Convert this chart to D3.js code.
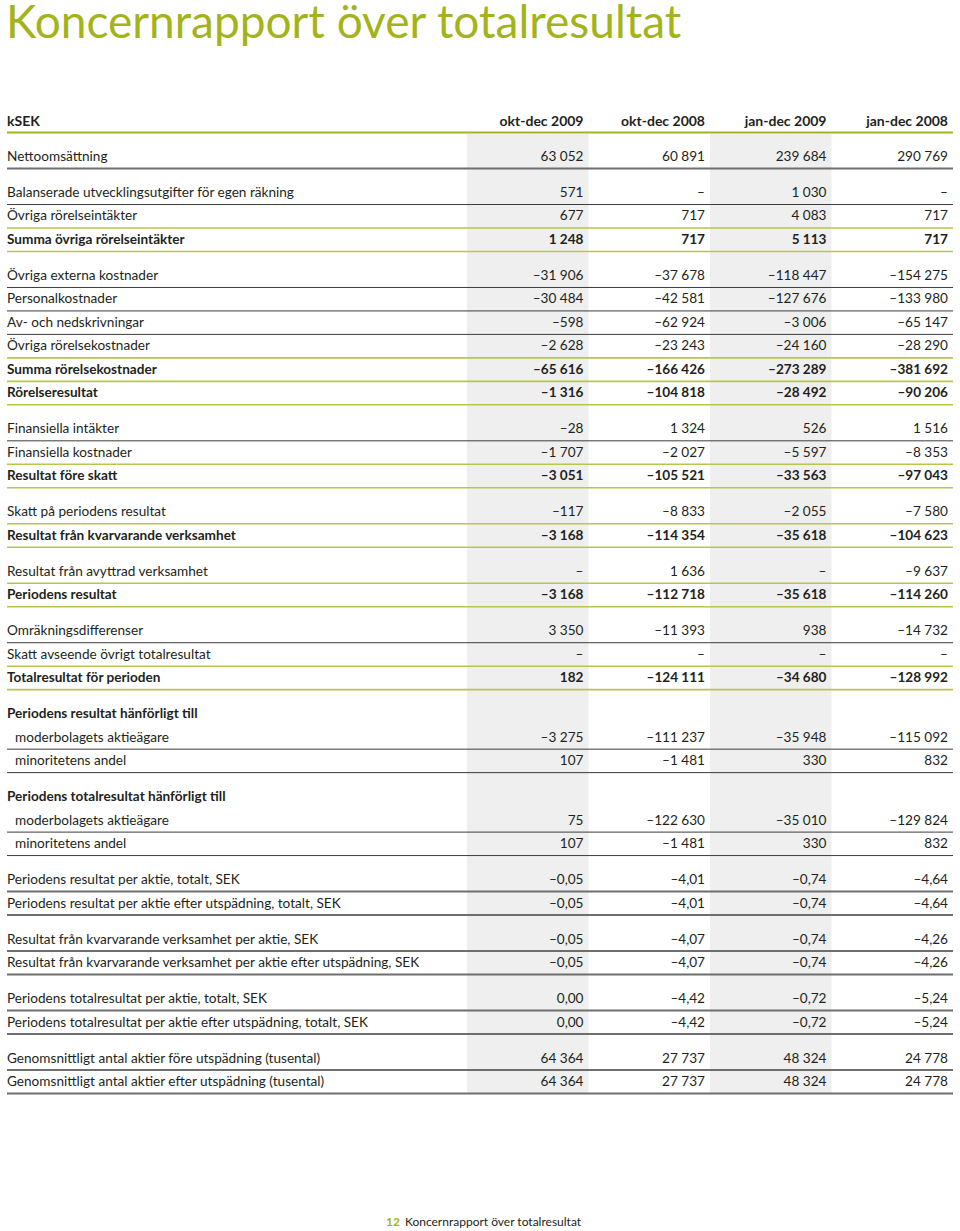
<!DOCTYPE html>
<html>
<head>
<meta charset="utf-8">
<script src="https://cdn.jsdelivr.net/npm/d3@7"></script>
<style>
  body { margin: 0; background: #fff; }
  svg text { font-family: Lato, "Open Sans", sans-serif; fill: #231f20; }
</style>
</head>
<body>
<svg id="report" width="960" height="1231"></svg>
<script>
// column headers
const colHeaders = ["okt-dec 2009", "okt-dec 2008", "jan-dec 2009", "jan-dec 2008"];

// row labels
const rowLabels = [
  "Nettoomsättning",
  "Balanserade utvecklingsutgifter för egen räkning",
  "Övriga rörelseintäkter",
  "Summa övriga rörelseintäkter",
  "Övriga externa kostnader",
  "Personalkostnader",
  "Av- och nedskrivningar",
  "Övriga rörelsekostnader",
  "Summa rörelsekostnader",
  "Rörelseresultat",
  "Finansiella intäkter",
  "Finansiella kostnader",
  "Resultat före skatt",
  "Skatt på periodens resultat",
  "Resultat från kvarvarande verksamhet",
  "Resultat från avyttrad verksamhet",
  "Periodens resultat",
  "Omräkningsdifferenser",
  "Skatt avseende övrigt totalresultat",
  "Totalresultat för perioden",
  "Periodens resultat hänförligt till",
  "moderbolagets aktieägare",
  "minoritetens andel",
  "Periodens totalresultat hänförligt till",
  "moderbolagets aktieägare",
  "minoritetens andel",
  "Periodens resultat per aktie, totalt, SEK",
  "Periodens resultat per aktie efter utspädning, totalt, SEK",
  "Resultat från kvarvarande verksamhet per aktie, SEK",
  "Resultat från kvarvarande verksamhet per aktie efter utspädning, SEK",
  "Periodens totalresultat per aktie, totalt, SEK",
  "Periodens totalresultat per aktie efter utspädning, totalt, SEK",
  "Genomsnittligt antal aktier före utspädning (tusental)",
  "Genomsnittligt antal aktier efter utspädning (tusental)"
];

// series values, one array per column (null = "–", undefined = blank)
const oktDec2009 = [63052, 571, 677, 1248, -31906, -30484, -598, -2628, -65616, -1316,
  -28, -1707, -3051, -117, -3168, null, -3168, 3350, null, 182,
  undefined, -3275, 107, undefined, 75, 107,
  -0.05, -0.05, -0.05, -0.05, 0.00, 0.00, 64364, 64364];
const oktDec2008 = [60891, null, 717, 717, -37678, -42581, -62924, -23243, -166426, -104818,
  1324, -2027, -105521, -8833, -114354, 1636, -112718, -11393, null, -124111,
  undefined, -111237, -1481, undefined, -122630, -1481,
  -4.01, -4.01, -4.07, -4.07, -4.42, -4.42, 27737, 27737];
const janDec2009 = [239684, 1030, 4083, 5113, -118447, -127676, -3006, -24160, -273289, -28492,
  526, -5597, -33563, -2055, -35618, null, -35618, 938, null, -34680,
  undefined, -35948, 330, undefined, -35010, 330,
  -0.74, -0.74, -0.74, -0.74, -0.72, -0.72, 48324, 48324];
const janDec2008 = [290769, null, 717, 717, -154275, -133980, -65147, -28290, -381692, -90206,
  1516, -8353, -97043, -7580, -104623, -9637, -114260, -14732, null, -128992,
  undefined, -115092, 832, undefined, -129824, 832,
  -4.64, -4.64, -4.26, -4.26, -5.24, -5.24, 24778, 24778];

// row format: bold, indent, rule under row, new group flag, decimals
const rowBold = [0,0,0,1,0,0,0,0,1,1, 0,0,1,0,1,0,1,0,0,1, 1,0,0,1,0,0, 0,0,0,0,0,0,0,0];
const rowIndent = [0,0,0,0,0,0,0,0,0,0, 0,0,0,0,0,0,0,0,0,0, 0,1,1,0,1,1, 0,0,0,0,0,0,0,0];
const rowRule = ["gray","dark","green","green","dark","dark","dark","green","green","green",
  "dark","green","green","green","green","green","green","dark","green","green",
  "none","dark","dark","none","dark","dark",
  "gray","gray","gray","gray","gray","gray","gray","gray"];
const groupStart = [1,1,0,0,1,0,0,0,0,0, 1,0,0,1,0,1,0,1,0,0, 1,0,0,1,0,0, 1,0,1,0,1,0,1,0];
const decimals = [0,0,0,0,0,0,0,0,0,0, 0,0,0,0,0,0,0,0,0,0, 0,0,0,0,0,0, 2,2,2,2,2,2,0,0];

const series = [oktDec2009, oktDec2008, janDec2009, janDec2008];

const GREEN = "#a3b41a";
const LINE_GREEN = "#b8c64a";
const ruleStyle = {
  green: { color: LINE_GREEN, width: 1.6 },
  dark: { color: "#3c3c3c", width: 1 },
  gray: { color: "#6e6e6e", width: 2 }
};

const se = d3.formatLocale({
  decimal: ",",
  thousands: " ",
  grouping: [3],
  currency: ["", " kr"],
  minus: "\u2013"
});
const fmt0 = se.format(",.0f");
const fmt2 = se.format(",.2f");

function cellText(v, i) {
  if (v === undefined) return "";
  if (v === null) return "\u2013";
  return decimals[i] ? fmt2(v) : fmt0(v);
}

const svg = d3.select("svg#report");

const left = 7, right = 953;
const bodySize = "13.6px";

// x positions of value columns
const xScale = d3.scaleBand().domain(colHeaders).range([467, right]).padding(0);

// y: row slot index including group gaps
let gapCount = 0;
const slot = rowLabels.map((d, i) => {
  if (i > 0 && groupStart[i]) gapCount++;
  return i + gapCount * 0.535;
});
const yScale = d3.scaleLinear().domain([0, d3.max(slot)]).range([161, 1086]);

// title
svg.append("text")
  .text("Koncernrapport över totalresultat")
  .attr("x", 6)
  .attr("y", 38)
  .style("font-size", "46px")
  .style("font-weight", 400)
  .style("fill", GREEN);

// shaded columns
[colHeaders[0], colHeaders[2]].forEach(c => {
  svg.append("rect")
    .attr("x", xScale(c))
    .attr("y", 134)
    .attr("width", xScale.bandwidth())
    .attr("height", yScale(d3.max(slot)) + 8 - 134)
    .attr("fill", "#efefef");
});

// header row
svg.append("text")
  .text("kSEK")
  .attr("x", left)
  .attr("y", 126)
  .style("font-size", "14px")
  .style("font-weight", 700);

colHeaders.forEach(c => {
  svg.append("text")
    .text(c)
    .attr("x", xScale(c) + xScale.bandwidth() - 5)
    .attr("y", 126)
    .attr("text-anchor", "end")
    .style("font-size", "14px")
    .style("font-weight", 700);
});

svg.append("line")
  .attr("x1", left).attr("x2", right)
  .attr("y1", 132.5).attr("y2", 132.5)
  .attr("stroke", GREEN)
  .attr("stroke-width", 2.2);

// body rows
rowLabels.forEach((label, i) => {
  const y = yScale(slot[i]);
  const weight = rowBold[i] ? 700 : 400;

  svg.append("text")
    .text(label)
    .attr("x", left + (rowIndent[i] ? 8 : 0))
    .attr("y", y)
    .style("font-size", bodySize)
    .style("font-weight", weight);

  series.forEach((vals, c) => {
    svg.append("text")
      .text(cellText(vals[i], i))
      .attr("x", xScale(colHeaders[c]) + xScale.bandwidth() - 5)
      .attr("y", y)
      .attr("text-anchor", "end")
      .style("font-size", bodySize)
      .style("font-weight", weight);
  });

  const rule = ruleStyle[rowRule[i]];
  if (rule) {
    svg.append("line")
      .attr("x1", left).attr("x2", right)
      .attr("y1", y + 7.5).attr("y2", y + 7.5)
      .attr("stroke", rule.color)
      .attr("stroke-width", rule.width);
  }
});

// footer
const footer = svg.append("text")
  .attr("x", 386)
  .attr("y", 1226)
  .style("font-size", "12px");
footer.append("tspan").text("12").style("fill", GREEN).style("font-weight", 700);
footer.append("tspan").text("Koncernrapport över totalresultat").attr("dx", 5);
</script>
</body>
</html>
